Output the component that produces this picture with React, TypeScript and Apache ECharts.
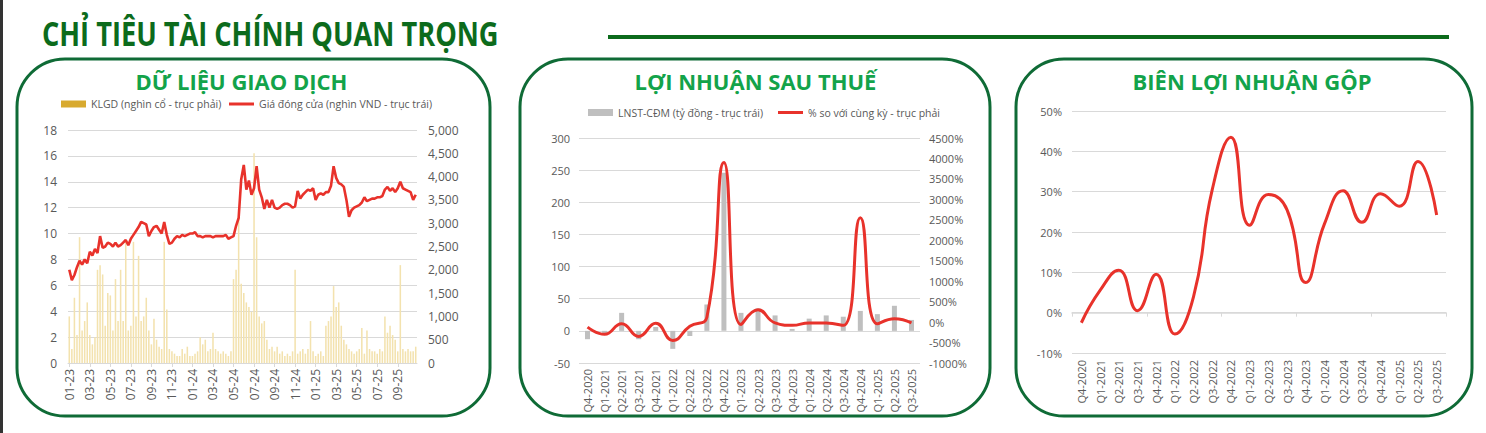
import React, { useEffect, useRef } from "react";
import * as echarts from "echarts";

// ---------- DATA ----------
const MONTHS = [
  "01-23", "02-23", "03-23", "04-23", "05-23", "06-23", "07-23", "08-23", "09-23", "10-23", "11-23", "12-23",
  "01-24", "02-24", "03-24", "04-24", "05-24", "06-24", "07-24", "08-24", "09-24", "10-24", "11-24", "12-24",
  "01-25", "02-25", "03-25", "04-25", "05-25", "06-25", "07-25", "08-25", "09-25", "10-25",
];
const WEEKS_PER_MONTH = 4;

// Closing price (thousand VND) - 4 readings per month
const PRICE = [
  7.2, 6.4, 6.8, 7.4, 7.9, 7.6, 8.0, 7.7, 8.6, 8.3, 8.8, 8.5,
  9.8, 8.9, 9.0, 9.3, 9.2, 9.0, 9.3, 9.0, 9.1, 9.3, 9.5, 9.1,
  9.6, 9.9, 10.2, 10.5, 10.9, 10.8, 10.7, 9.8, 10.2, 10.5, 10.6, 10.3,
  10.0, 10.9, 9.9, 9.2, 9.3, 9.6, 9.8, 9.7, 9.9, 9.8, 9.9, 10.0,
  10.0, 10.1, 9.8, 9.8, 9.7, 9.8, 9.8, 9.8, 9.7, 9.8, 9.8, 9.8,
  9.8, 9.9, 9.6, 9.7, 9.8, 10.6, 11.2, 14.2, 15.3, 13.4, 14.1, 13.0,
  13.5, 15.2, 13.4, 12.8, 11.9, 12.6, 12.0, 12.6, 12.0, 11.9, 12.0, 12.2,
  12.3, 12.3, 12.2, 12.0, 12.1, 13.3, 12.7, 13.0, 13.2, 13.4, 13.3, 13.5,
  12.6, 13.0, 13.1, 13.0, 13.2, 13.2, 13.7, 15.2, 14.3, 13.9, 13.8, 13.6,
  12.6, 11.3, 11.8, 12.0, 12.1, 12.2, 12.4, 12.8, 12.5, 12.6, 12.7, 12.7,
  12.8, 12.8, 12.9, 13.4, 13.6, 13.3, 13.5, 13.2, 13.5, 14.0, 13.5, 13.4,
  13.3, 13.2, 12.6, 13.0,
];

// Trading volume (thousand shares) - 4 readings per month
const VOLUME = [
  1000, 300, 1400, 600, 2700, 700, 900, 1300, 600, 400, 550, 2000,
  2100, 1900, 800, 1500, 1450, 700, 1800, 900, 2000, 900, 2600, 700,
  800, 2600, 1000, 2300, 900, 1000, 1400, 700, 400, 950, 500, 350,
  300, 2600, 1150, 300, 250, 200, 150, 150, 300, 200, 350, 150,
  150, 200, 250, 550, 400, 500, 250, 300, 650, 300, 250, 200,
  250, 200, 150, 250, 1800, 2000, 3300, 1700, 1500, 1300, 1200, 1100,
  4500, 2700, 1000, 850, 900, 500, 300, 350, 250, 350, 200, 250,
  150, 200, 150, 250, 2000, 200, 250, 300, 200, 300, 900, 250,
  150, 200, 250, 150, 800, 900, 1000, 1650, 1200, 1300, 800, 500,
  400, 300, 250, 200, 250, 300, 750, 200, 700, 300, 250, 250,
  200, 300, 250, 1000, 650, 800, 600, 500, 250, 2100, 300, 250,
  300, 250, 250, 350,
];

const QUARTERS = [
  "Q4-2020", "Q1-2021", "Q2-2021", "Q3-2021", "Q4-2021", "Q1-2022", "Q2-2022", "Q3-2022", "Q4-2022", "Q1-2023",
  "Q2-2023", "Q3-2023", "Q4-2023", "Q1-2024", "Q2-2024", "Q3-2024", "Q4-2024", "Q1-2025", "Q2-2025", "Q3-2025",
];
// Net profit attributable to parent (billion VND)
const LNST = [-13, -4, 28, -13, 6, -28, -8, 41, 246, 28, 35, 24, 3, 19, 24, 22, 31, 26, 39, 17];
// YoY change (%)
const LNST_YOY = [-125, -300, -40, -350, -30, -450, -100, 120, 3900, -60, 300, -20, -80, -20, -20, -80, 2550, -40, 80, -20];
// Gross margin (%)
const GROSS_MARGIN = [-2.5, 5.5, 10.5, 0.5, 9.5, -5.3, 4.0, 30.5, 43.5, 21.7, 29.3, 25.5, 7.5, 22.0, 30.2, 22.4, 29.5, 26.4, 37.5, 24.2];

// ---------- STYLE ----------
const FONT = '"Open Sans", "Noto Sans", sans-serif';
const AXIS_TEXT = "#595959";
const GRID_LINE = "#d9d9d9";
const RED = "#e8322b";
const DARK_GREEN = "#0c6b1c";
const BOX_GREEN = "#0f6b36";
const TITLE_GREEN = "#13a34a";

const S_VOL = "KLGD (nghìn cổ - trục phải)";
const S_PRICE = "Giá đóng cửa (nghìn VND - trục trái)";
const S_LNST = "LNST-CĐM (tỷ đồng - trục trái)";
const S_YOY = "% so với cùng kỳ - trục phải";

export default function App() {
  const ref = useRef<HTMLDivElement>(null);

  useEffect(() => {
    if (!ref.current) return;
    const chart = echarts.init(ref.current, null, { renderer: "svg" });

    const cats = MONTHS.flatMap((m) =>
      Array.from({ length: WEEKS_PER_MONTH }, (_, k) => `${m}#${k}`)
    );
    const monthLabel = (v: string) => String(v).split("#")[0];
    const showMonth = (_i: number, v: string) => {
      const [m, k] = String(v).split("#");
      return k === "0" && parseInt(m.slice(0, 2), 10) % 2 === 1;
    };

    const boxes = [
      { x: 17, w: 473, cx: 241.5, title: "DỮ LIỆU GIAO DỊCH" },
      { x: 520, w: 470, cx: 755.5, title: "LỢI NHUẬN SAU THUẾ" },
      { x: 1016, w: 456, cx: 1252, title: "BIÊN LỢI NHUẬN GỘP" },
    ];

    const graphic: any[] = [
      { type: "rect", shape: { x: 0, y: 0, width: 3, height: 433 }, style: { fill: "#333333" }, silent: true },
      {
        type: "text",
        x: 42,
        y: 33,
        scaleX: 0.8,
        style: {
          text: "CHỈ TIÊU TÀI CHÍNH QUAN TRỌNG",
          fontSize: 34,
          fontWeight: "bold",
          fontFamily: FONT,
          fill: DARK_GREEN,
          align: "left",
          verticalAlign: "middle",
        },
      },
      { type: "rect", shape: { x: 608, y: 35, width: 841, height: 4 }, style: { fill: DARK_GREEN } },
    ];
    boxes.forEach((b) => {
      graphic.push({
        type: "rect",
        shape: { x: b.x, y: 59, width: b.w, height: 357, r: 48 },
        style: { fill: "none", stroke: BOX_GREEN, lineWidth: 3 },
        z: -1,
      });
      graphic.push({
        type: "text",
        x: b.cx,
        y: 81,
        style: {
          text: b.title,
          fontSize: 22,
          fontWeight: "bold",
          fontFamily: FONT,
          fill: TITLE_GREEN,
          align: "center",
          verticalAlign: "middle",
        },
      });
    });

    const axisLabelBase = { color: AXIS_TEXT, fontFamily: FONT };
    const legendText = { color: AXIS_TEXT, fontSize: 10.5, fontFamily: FONT };
    const mkLegend = (name: string, left: number, top: number, color: string, h: number) => ({
      left,
      top,
      padding: 0,
      itemWidth: 25,
      itemHeight: h,
      icon: "rect",
      selectedMode: false,
      textStyle: legendText,
      data: [{ name, icon: "rect", itemStyle: { color, opacity: 1, borderWidth: 0 } }],
    });

    const option: any = {
      animation: false,
      backgroundColor: "#ffffff",
      textStyle: { fontFamily: FONT },
      graphic,
      legend: [
        mkLegend(S_VOL, 61, 98.5, "#d8aa2f", 7),
        mkLegend(S_PRICE, 229, 98.5, RED, 3),
        mkLegend(S_LNST, 588, 107, "#bfbfbf", 7),
        mkLegend(S_YOY, 778, 107, RED, 3),
      ],
      grid: [
        { left: 68, right: 1069, top: 130, bottom: 70 },
        { left: 579, right: 566, top: 138, bottom: 70 },
        { left: 1072, right: 40, top: 111, bottom: 80 },
      ],
      xAxis: [
        {
          gridIndex: 0,
          type: "category",
          data: cats,
          axisLine: { lineStyle: { color: GRID_LINE } },
          axisTick: { show: true, alignWithLabel: true, length: 4, interval: showMonth, lineStyle: { color: GRID_LINE } },
          axisLabel: { ...axisLabelBase, fontSize: 12, rotate: 90, margin: 6, interval: showMonth, formatter: monthLabel },
        },
        {
          gridIndex: 1,
          type: "category",
          data: QUARTERS,
          axisLine: { show: false, onZero: false },
          axisTick: { show: false },
          axisLabel: { ...axisLabelBase, fontSize: 11, rotate: 90, margin: 6, interval: 0 },
        },
        {
          gridIndex: 2,
          type: "category",
          data: QUARTERS,
          position: "bottom",
          axisLine: { show: false, onZero: false },
          axisTick: { show: false },
          axisLabel: { ...axisLabelBase, fontSize: 11, rotate: 90, margin: 7, interval: 0 },
        },
        {
          gridIndex: 2,
          type: "category",
          data: QUARTERS,
          position: "bottom",
          axisLine: { show: true, onZero: true, lineStyle: { color: GRID_LINE, width: 1.5 } },
          axisTick: { show: true, length: 4, lineStyle: { color: GRID_LINE } },
          axisLabel: { show: false },
        },
      ],
      yAxis: [
        {
          gridIndex: 0,
          type: "value",
          min: 0,
          max: 18,
          interval: 2,
          axisLine: { show: false },
          axisTick: { show: false },
          splitLine: { lineStyle: { color: GRID_LINE } },
          axisLabel: { ...axisLabelBase, fontSize: 12, margin: 11 },
        },
        {
          gridIndex: 0,
          type: "value",
          position: "right",
          min: 0,
          max: 5000,
          interval: 500,
          axisLine: { show: false },
          axisTick: { show: false },
          splitLine: { show: false },
          axisLabel: { ...axisLabelBase, fontSize: 12, margin: 11, formatter: (v: number) => v.toLocaleString("en-US") },
        },
        {
          gridIndex: 1,
          type: "value",
          min: -50,
          max: 300,
          interval: 50,
          axisLine: { show: false },
          axisTick: { show: false },
          splitLine: { lineStyle: { color: GRID_LINE } },
          axisLabel: { ...axisLabelBase, fontSize: 11, margin: 9 },
        },
        {
          gridIndex: 1,
          type: "value",
          position: "right",
          min: -1000,
          max: 4500,
          interval: 500,
          axisLine: { show: false },
          axisTick: { show: false },
          splitLine: { show: false },
          axisLabel: { ...axisLabelBase, fontSize: 11, margin: 9, formatter: (v: number) => `${v}%` },
        },
        {
          gridIndex: 2,
          type: "value",
          min: -10,
          max: 50,
          interval: 10,
          axisLine: { show: false },
          axisTick: { show: false },
          splitLine: { lineStyle: { color: GRID_LINE } },
          axisLabel: { ...axisLabelBase, fontSize: 11, margin: 10, formatter: (v: number) => `${v}%` },
        },
      ],
      series: [
        {
          name: S_VOL,
          type: "bar",
          xAxisIndex: 0,
          yAxisIndex: 1,
          data: VOLUME,
          barCategoryGap: "40%",
          itemStyle: { color: "#f3e2ae" },
        },
        {
          name: S_PRICE,
          type: "line",
          xAxisIndex: 0,
          yAxisIndex: 0,
          data: PRICE,
          symbol: "none",
          lineStyle: { color: RED, width: 2.6 },
          itemStyle: { color: RED },
        },
        {
          name: S_LNST,
          type: "bar",
          xAxisIndex: 1,
          yAxisIndex: 2,
          data: LNST,
          barWidth: 5,
          itemStyle: { color: "#bfbfbf" },
        },
        {
          name: S_YOY,
          type: "line",
          xAxisIndex: 1,
          yAxisIndex: 3,
          data: LNST_YOY,
          smooth: true,
          symbol: "none",
          lineStyle: { color: RED, width: 3 },
          itemStyle: { color: RED },
        },
        {
          name: "Biên lợi nhuận gộp",
          type: "line",
          xAxisIndex: 2,
          yAxisIndex: 4,
          data: GROSS_MARGIN,
          smooth: true,
          symbol: "none",
          lineStyle: { color: RED, width: 3 },
          itemStyle: { color: RED },
        },
      ],
    };

    chart.setOption(option);
    return () => chart.dispose();
  }, []);

  return (
    <div
      ref={ref}
      style={{ position: "fixed", left: 0, top: 0, width: 1486, height: 433, background: "#ffffff" }}
    />
  );
}
